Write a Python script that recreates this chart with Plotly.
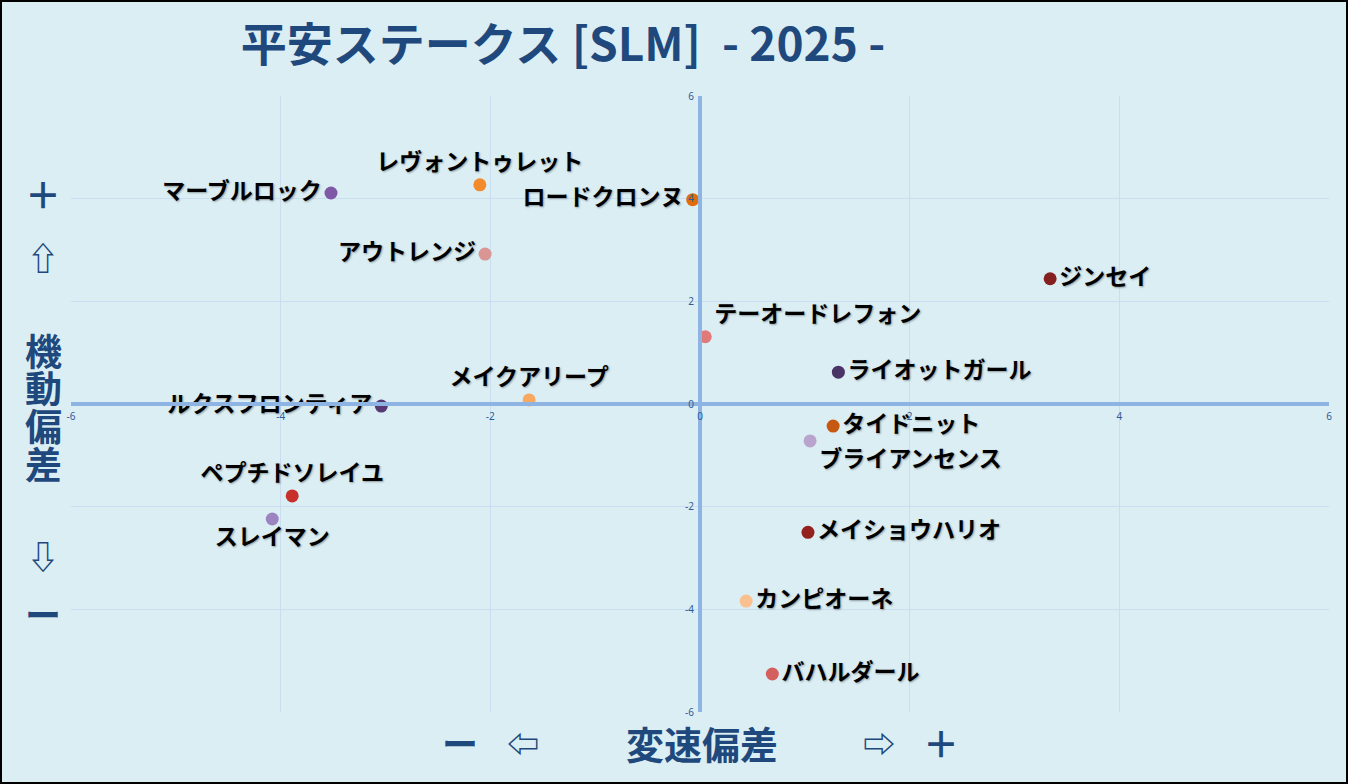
import plotly.graph_objects as go

# horse names and the two deviation scores
horses = ["マーブルロック", "レヴォントゥレット", "ロードクロンヌ", "アウトレンジ",
          "ジンセイ", "テーオードレフォン", "ライオットガール", "メイクアリープ",
          "ルクスフロンティア", "タイドニット", "ブライアンセンス", "ペプチドソレイユ",
          "スレイマン", "メイショウハリオ", "カンピオーネ", "バハルダール"]
speed_dev = [-3.52, -2.10, -0.07, -2.05, 3.34, 0.05, 1.32, -1.63,
             -3.04, 1.27, 1.05, -3.89, -4.08, 1.03, 0.44, 0.69]
mobility_dev = [4.11, 4.27, 3.98, 2.92, 2.44, 1.31, 0.62, 0.08,
                -0.04, -0.43, -0.72, -1.79, -2.24, -2.50, -3.84, -5.26]

tick_vals = [-6, -4, -2, 0, 2, 4, 6]
tick_text = ["-6", "-4", "-2", "0", "2", "4", "6"]

title_text = "平安ステークス [SLM]\u00a0\u00a0- 2025 -"

dot_colors = ["#7f58a6", "#f38a2c", "#e26b0a", "#d99694",
              "#862020", "#e07a7a", "#4a3366", "#f9a85f",
              "#573a73", "#c65911", "#b8a4cc", "#c8302c",
              "#9b84c0", "#93221f", "#fac08f", "#d35f5f"]
label_pos = ["middle left", "top center", "middle left", "middle left",
             "middle right", "top right", "middle right", "top center",
             "middle left", "middle right", "bottom right", "top center",
             "bottom center", "middle right", "middle right", "middle right"]

navy = "#1f497d"
bg = "#dbeef4"
jp = "Noto Sans CJK JP"

W, H = 1348, 784
ml, mr, mt, mb = 71, 19, 96, 72
pw, ph = W - ml - mr, H - mt - mb

fig = go.Figure()
fig.add_trace(go.Scatter(
    x=speed_dev, y=mobility_dev, mode="markers+text",
    text=horses, textposition=label_pos,
    textfont=dict(family=jp, size=23, color="black", weight="bold",
                  shadow="1px 1px 2px rgba(0,0,0,0.35)"),
    marker=dict(size=13, color=dot_colors, line=dict(width=0)),
    hoverinfo="skip", cliponaxis=False, showlegend=False))

axis_common = dict(
    range=[-6, 6], tickvals=tick_vals, ticktext=tick_text,
    showgrid=True, gridcolor="#c9def0", gridwidth=1,
    zeroline=False, showline=True, linecolor="#8db4e2", linewidth=4,
    ticks="", tickfont=dict(family="Noto Sans", size=10, color="#2e5c9a"),
    anchor="free", position=0.5, fixedrange=True, ticklabelstandoff=2)

fig.update_layout(
    width=W, height=H,
    margin=dict(l=ml, r=mr, t=mt, b=mb, pad=0),
    paper_bgcolor=bg, plot_bgcolor=bg,
    xaxis=axis_common,
    yaxis=axis_common,
    title=dict(text="<b>" + title_text + "</b>", xref="container", yref="container",
               x=563 / W, y=1 - 45 / H, xanchor="center", yanchor="middle",
               font=dict(family=jp, size=46, color=navy)),
)

def px_x(p):
    return (p - ml) / pw

def px_y(p):
    return (H - mb - p) / ph

def caption(txt, xx, yy, fs):
    fig.add_annotation(text="<b>" + txt + "</b>", xref="paper", yref="paper",
                       x=px_x(xx), y=px_y(yy), xanchor="center", yanchor="middle",
                       showarrow=False, font=dict(family=jp, size=fs, color=navy))

# vertical axis caption, one glyph per line
side = [("＋", 193, 36), ("⇧", 256, 32), ("機", 350, 37), ("動", 387, 37),
        ("偏", 425, 37), ("差", 463, 37), ("⇩", 555, 32), ("ー", 613, 36)]
for ch, yy, fs in side:
    caption(ch, 43, yy, fs)

# horizontal axis caption
bottom = [("ー", 460, 36), ("⇦", 523, 32), ("変速偏差", 702, 38),
          ("⇨", 879, 32), ("＋", 941, 36)]
for txt, xx, fs in bottom:
    caption(txt, xx, 742, fs)

# frame round the whole picture
fig.add_shape(type="rect", xref="paper", yref="paper",
              x0=px_x(1), x1=px_x(W - 1), y0=px_y(H - 1), y1=px_y(1),
              line=dict(color="black", width=2), fillcolor="rgba(0,0,0,0)",
              layer="above")

fig.write_html("out.html", config={"displayModeBar": False},
               post_script="document.body.style.margin='0';"
                           "document.body.style.overflow='hidden';")
